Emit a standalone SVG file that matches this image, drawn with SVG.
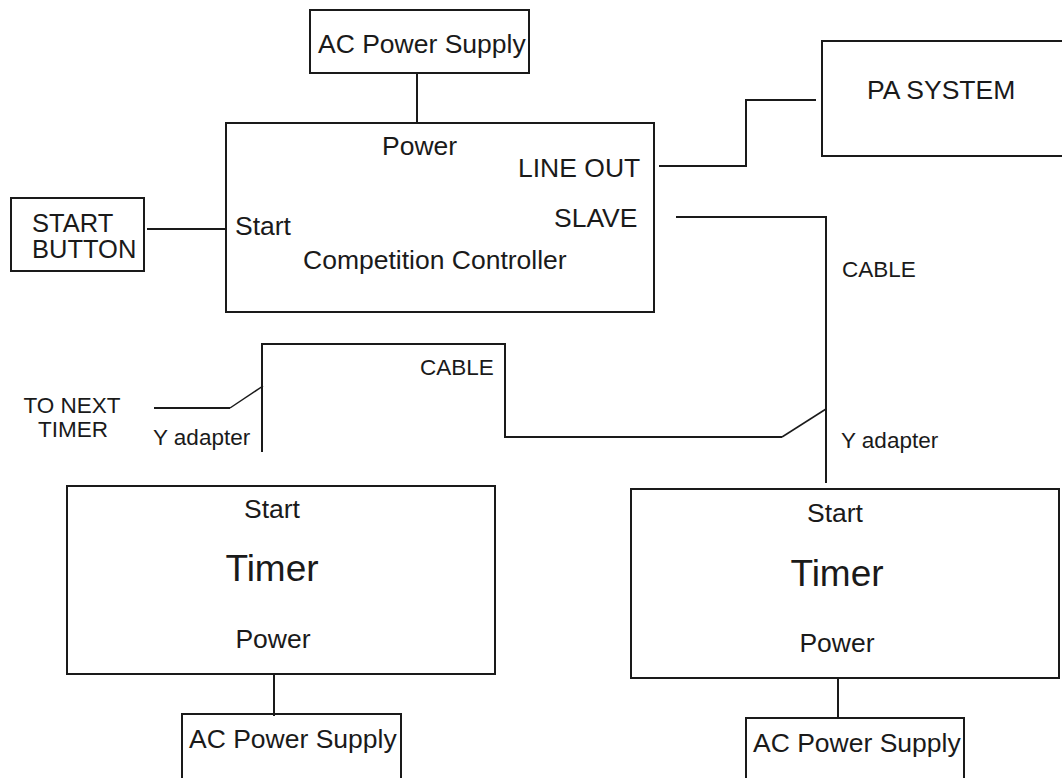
<svg xmlns="http://www.w3.org/2000/svg" width="1062" height="778" viewBox="0 0 1062 778">
<style>
.box{fill:none;stroke:#1a1a1a;stroke-width:2}
.ln{fill:none;stroke:#1a1a1a;stroke-width:2}
.dg{fill:none;stroke:#1a1a1a;stroke-width:1.5}
text{font-family:"Liberation Sans",Arial,sans-serif;fill:#1a1a1a}
.t26{font-size:26.5px}
.t25{font-size:25.5px}
.t22{font-size:22.5px}
.t37{font-size:37px}
.m{text-anchor:middle}
</style>
<rect width="1062" height="778" fill="#fff"/>
<g id="connectors">
<polyline class="ln" points="417,73 417,123"/>
<polyline class="ln" points="147,229 226,229"/>
<polyline class="ln" points="659,166 746,166 746,100 816,100"/>
<polyline class="ln" points="676,217 826,217 826,483"/>
<polyline class="ln" points="262,452 262,344 505,344 505,437 782,437"/>
<line class="dg" x1="782" y1="437" x2="826" y2="409"/>
<polyline class="ln" points="154,408 230,408"/>
<line class="dg" x1="230" y1="408" x2="263" y2="386"/>
<polyline class="ln" points="274,674 274,716"/>
<polyline class="ln" points="838,678 838,718"/>
</g>
<g id="ac-top">
<rect class="box" x="310" y="10" width="219" height="63"/>
<text class="t26" x="318" y="53">AC Power Supply</text>
</g>
<g id="controller">
<rect class="box" x="226" y="123" width="428" height="189"/>
<text class="t26" x="382" y="155">Power</text>
<text class="t26" x="518" y="177">LINE OUT</text>
<text class="t26" x="554" y="227">SLAVE</text>
<text class="t26" x="235" y="235">Start</text>
<text class="t26" x="303" y="269">Competition Controller</text>
</g>
<g id="start-button">
<rect class="box" x="11" y="198" width="133" height="73"/>
<text class="t25" x="32" y="232">START</text>
<text class="t25" x="32" y="258">BUTTON</text>
</g>
<g id="pa-system">
<path class="box" d="M1070,41 H822 V156 H1070"/>
<text class="t26" x="867" y="99">PA SYSTEM</text>
</g>
<g id="labels">
<text class="t22" x="842" y="277">CABLE</text>
<text class="t22" x="420" y="375">CABLE</text>
<text class="t22 m" x="72" y="413">TO NEXT</text>
<text class="t22 m" x="73" y="437">TIMER</text>
<text class="t22" x="153" y="445">Y adapter</text>
<text class="t22" x="841" y="448">Y adapter</text>
</g>
<g id="timer-left">
<rect class="box" x="67" y="486" width="428" height="188"/>
<text class="t26 m" x="272" y="518">Start</text>
<text class="t37 m" x="272" y="581">Timer</text>
<text class="t26 m" x="273" y="648">Power</text>
</g>
<g id="timer-right">
<rect class="box" x="631" y="489" width="428" height="189"/>
<text class="t26 m" x="835" y="522">Start</text>
<text class="t37 m" x="837" y="586">Timer</text>
<text class="t26 m" x="837" y="652">Power</text>
</g>
<g id="ac-left">
<path class="box" d="M182,790 V714 H401 V790"/>
<text class="t26" x="189" y="748">AC Power Supply</text>
</g>
<g id="ac-right">
<path class="box" d="M746,790 V718 H964 V790"/>
<text class="t26" x="753" y="752">AC Power Supply</text>
</g>
</svg>
